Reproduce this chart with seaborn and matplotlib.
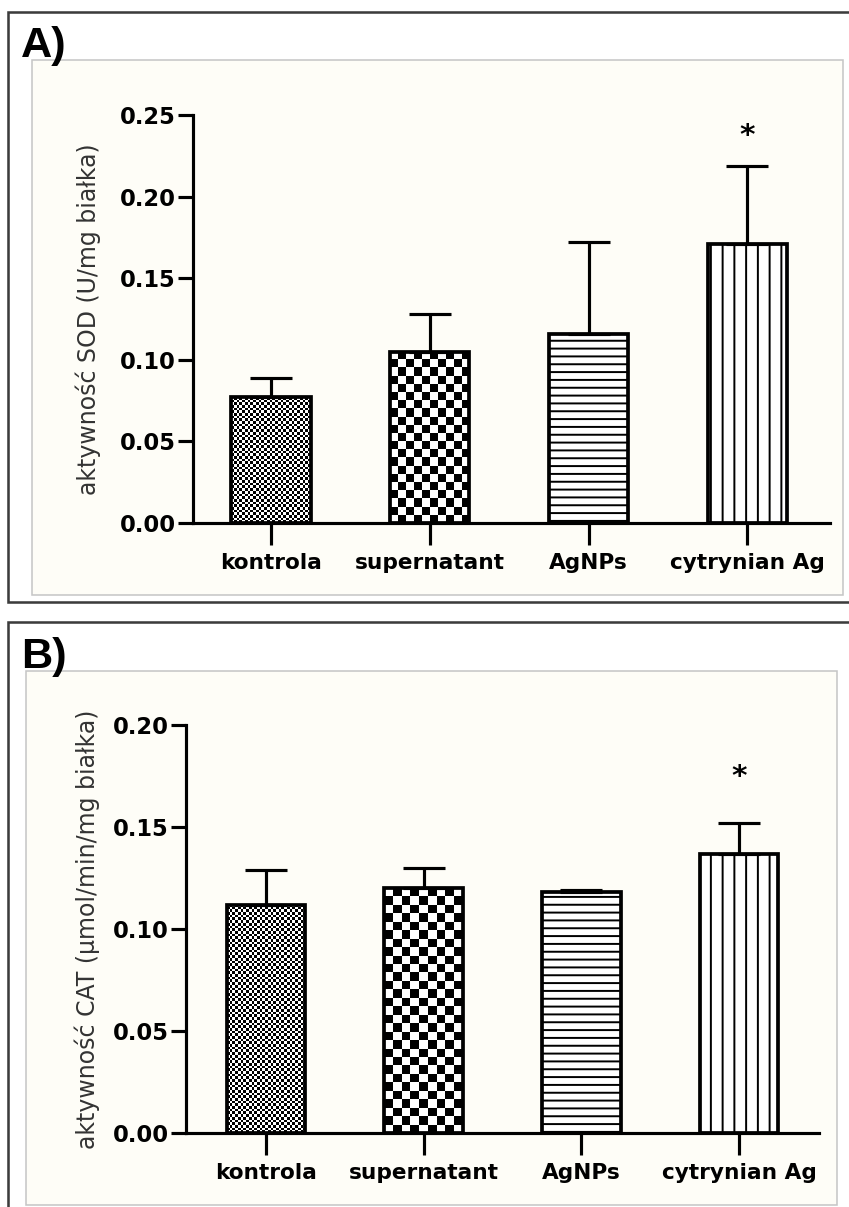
import numpy as np
import pandas as pd
import matplotlib
matplotlib.use("Agg")
import matplotlib.pyplot as plt
from matplotlib.patches import Rectangle
from matplotlib.colors import ListedColormap
import seaborn as sns

# ---------------- data ----------------
categories = ["kontrola", "supernatant", "AgNPs", "cytrynian Ag"]
sod_mean = [0.077, 0.105, 0.116, 0.171]
sod_err = [0.012, 0.023, 0.056, 0.048]
cat_mean = [0.112, 0.120, 0.118, 0.137]
cat_err = [0.017, 0.010, 0.001, 0.015]
significant = [False, False, False, True]
sod_ticks = [0.00, 0.05, 0.10, 0.15, 0.20, 0.25]
cat_ticks = [0.00, 0.05, 0.10, 0.15, 0.20]
sod_label = "aktywność SOD (U/mg białka)"
cat_label = "aktywność CAT (µmol/min/mg białka)"
panel_letters = ["A)", "B)"]

# ---------------- figure ----------------
W, H, DPI = 849, 1207, 141.5
sns.set_style("white")
plt.rcParams["font.family"] = ["DejaVu Sans"]
plt.rcParams["hatch.linewidth"] = 1.0
plt.rcParams["text.color"] = "black"

fig = plt.figure(figsize=(W / DPI, H / DPI + 0.0001), dpi=DPI)


def frac_rect(x0, y0, x1, y1):
    return (x0 / W, 1 - y1 / H), (x1 - x0) / W, (y1 - y0) / H


def add_box(x0, y0, x1, y1, **kw):
    xy, w, h = frac_rect(x0, y0, x1, y1)
    fig.add_artist(Rectangle(xy, w, h, transform=fig.transFigure, **kw))


# outer frames and inner boxes
add_box(8, 12, 870, 602, facecolor="white", edgecolor="#3c3c3c", lw=1.3, zorder=-2)
add_box(32, 60, 843, 595, facecolor="#fefdf7", edgecolor="#c6c6c6", lw=0.8, zorder=-1)
add_box(8, 622, 870, 1230, facecolor="white", edgecolor="#3c3c3c", lw=1.3, zorder=-2)
add_box(26, 671, 837, 1205, facecolor="#fefdf7", edgecolor="#c6c6c6", lw=0.8, zorder=-1)

letter_font = ["Liberation Sans Narrow", "Liberation Sans", "DejaVu Sans"]
fig.text(21 / W, 1 - 57 / H, panel_letters[0], fontsize=22, fontweight="bold",
         family=letter_font, ha="left", va="baseline", color="black")
fig.text(21 / W, 1 - 668 / H, panel_letters[1], fontsize=22, fontweight="bold",
         family=letter_font, ha="left", va="baseline", color="black")

cmap_bw = ListedColormap(["white", "black"])


def checker(ax, patch, cell_px):
    x0, y0 = patch.get_x(), patch.get_y()
    w, h = patch.get_width(), patch.get_height()
    (px0, py0), (px1, py1) = ax.transData.transform([(x0, y0), (x0 + w, y0 + h)])
    nx = max(1, int(round(abs(px1 - px0) / cell_px)))
    ny = max(1, int(round(abs(py1 - py0) / cell_px)))
    arr = np.add.outer(np.arange(ny), np.arange(nx)) % 2
    im = ax.imshow(arr, cmap=cmap_bw, vmin=0, vmax=1, extent=(x0, x0 + w, y0, y0 + h),
                   origin="lower", interpolation="nearest", aspect="auto", zorder=1)
    im.set_clip_path(patch)
    patch.set_facecolor("none")


def panel(rect_px, xlim, means, errs, ticks, label, label_x, star_off):
    x0, y0, x1, y1 = rect_px
    xy, w, h = frac_rect(x0, y0, x1, y1)
    ax = fig.add_axes([xy[0], xy[1], w, h])
    ax.set_zorder(2)
    ax.patch.set_visible(False)
    df = pd.DataFrame({"grupa": categories, "wartosc": means})
    sns.barplot(data=df, x="grupa", y="wartosc", ax=ax, color="white", saturation=1,
                width=0.5, edgecolor="black", linewidth=1.9, errorbar=None)
    ylim = (ticks[0], ticks[-1])
    ax.set_xlim(*xlim)
    ax.set_ylim(*ylim)
    bars = ax.patches
    for b in bars:
        b.set_zorder(2)
    checker(ax, bars[0], 2.7)
    checker(ax, bars[1], 8.3)
    bars[2].set_hatch("---")
    bars[3].set_hatch("||")
    pos = np.arange(len(categories))
    ax.errorbar(pos, means, yerr=[np.zeros(len(errs)), errs], fmt="none",
                ecolor="black", elinewidth=1.6, capsize=10.9, capthick=1.6, zorder=3)
    for i, sig in enumerate(significant):
        if sig:
            ax.annotate("*", xy=(pos[i], means[i] + errs[i]), xytext=(0, star_off),
                        textcoords="offset points", ha="center", va="baseline",
                        fontsize=15, fontweight="bold", annotation_clip=False,
                        color="black")
    ax.set_xlim(*xlim)
    ax.set_ylim(*ylim)
    ax.set_yticks(ticks)
    ax.set_yticklabels([f"{t:.2f}" for t in ticks])
    ax.set_xlabel("")
    ax.set_ylabel(label, fontsize=12, color="#333333", va="center")
    ax.yaxis.set_label_coords(label_x, 0.5)
    for s in ["top", "right"]:
        ax.spines[s].set_visible(False)
    for s in ["left", "bottom"]:
        ax.spines[s].set_linewidth(1.6)
        ax.spines[s].set_color("black")
    ax.tick_params(axis="y", which="major", left=True, length=7.6, width=1.6, pad=1.2,
                   labelsize=11.5, colors="black")
    ax.tick_params(axis="x", which="major", bottom=True, length=11.2, width=1.6, pad=4,
                   labelsize=11, colors="black")
    for t in ax.get_xticklabels() + ax.get_yticklabels():
        t.set_fontweight("bold")
    return ax


panel((193, 115, 830, 523), (-0.491, 3.52), sod_mean, sod_err, sod_ticks, sod_label,
      (88 - 193) / 637, 11)
panel((186, 725, 819, 1133), (-0.507, 3.507), cat_mean, cat_err, cat_ticks, cat_label,
      (87 - 186) / 633, 19.5)

fig.savefig("out.png", dpi=DPI)
